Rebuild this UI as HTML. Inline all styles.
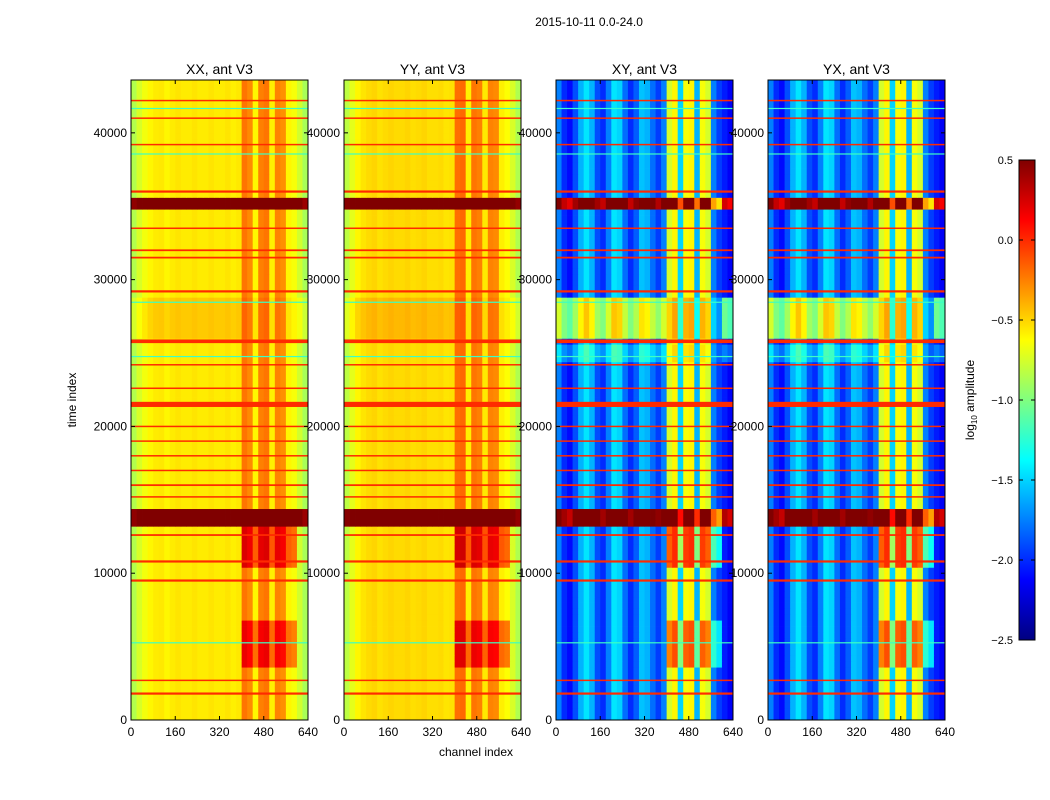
<!DOCTYPE html>
<html><head><meta charset="utf-8"><style>
html,body{margin:0;padding:0;background:#fff;}
svg{display:block;font-family:"Liberation Sans","DejaVu Sans",sans-serif;}
</style></head><body>
<svg id="fig" width="1050" height="800" viewBox="0 0 1050 800" xmlns="http://www.w3.org/2000/svg">
<text x="589" y="26" font-size="12" text-anchor="middle">2015-10-11 0.0-24.0</text>
<g id="panels"></g>
<text x="476" y="756" font-size="12" text-anchor="middle">channel index</text>
<text transform="translate(76,400) rotate(-90)" font-size="12" text-anchor="middle">time index</text>
<defs><linearGradient id="jet" x1="0" y1="1" x2="0" y2="0"></linearGradient></defs>
<g id="colorbar"></g>
<text transform="translate(974,400) rotate(-90)" font-size="12" text-anchor="middle">log<tspan font-size="8" dy="3">10</tspan><tspan dy="-3"> amplitude</tspan></text>
</svg>
<script>
// ---- data ----
const panelTitles = ["XX, ant V3","YY, ant V3","XY, ant V3","YX, ant V3"];
const xTicks = [0,160,320,480,640];
const yTicks = [0,10000,20000,30000,40000];
const cbTicks = [0.5,0.0,-0.5,-1.0,-1.5,-2.0,-2.5];
const cbTickLabels = ["0.5","0.0","\u22120.5","\u22121.0","\u22121.5","\u22122.0","\u22122.5"];
const profXX = [-0.85,-0.74,-0.66,-0.6,-0.57,-0.56,-0.6,-0.57,-0.55,-0.57,-0.57,-0.55,-0.57,-0.57,-0.55,-0.57,-0.57,-0.55,-0.58,-0.56,-0.22,-0.28,-0.6,-0.25,-0.22,-0.58,-0.26,-0.3,-0.6,-0.65,-0.76,-0.88];
const profYY = [-0.82,-0.7,-0.6,-0.55,-0.52,-0.5,-0.54,-0.52,-0.5,-0.52,-0.52,-0.5,-0.53,-0.52,-0.5,-0.53,-0.53,-0.52,-0.55,-0.54,-0.2,-0.18,-0.58,-0.22,-0.25,-0.56,-0.26,-0.28,-0.58,-0.63,-0.74,-0.86];
const profXY = [-1.75,-2.0,-2.1,-1.9,-1.6,-1.45,-1.6,-1.9,-2.0,-1.75,-1.45,-1.5,-1.8,-2.0,-1.85,-1.55,-1.6,-1.8,-1.95,-1.75,-0.75,-0.6,-1.5,-0.65,-0.6,-1.6,-0.65,-0.75,-1.75,-1.95,-2.05,-2.15];
const profYX = [-1.75,-2.0,-2.1,-1.9,-1.6,-1.45,-1.6,-1.9,-2.0,-1.75,-1.45,-1.5,-1.8,-2.0,-1.85,-1.55,-1.6,-1.8,-1.95,-1.75,-0.75,-0.6,-1.5,-0.65,-0.6,-1.6,-0.65,-0.75,-1.75,-1.95,-2.05,-2.15];
// time blocks: start, end, base offset, rfi offset
const blockStart = [3500,10500,13200,24500,26000,35000];
const blockEnd   = [7000,13200,14500,25500,29000,35700];
const blockBaseXX = [0,0,1.3,0,0.1,1.3];
const blockRfiXX  = [0.4,0.45,1.3,0,0.05,1.3];
const blockBaseXY = [0,0,2.4,0.3,1.0,2.3];
const blockRfiXY  = [0.5,0.6,1.6,0.1,0.25,1.4];
// flagged lines: time index, width (time units), value
const flagTimes = [1800,2700,9500,10800,12600,15200,16000,17000,18000,19000,20000,21500,22600,24200,25800,29200,31500,32000,33500,36000,39200,41000,42200];
const flagWidths = [150,100,150,150,120,100,120,100,100,100,100,350,100,100,250,150,120,120,100,150,100,100,100];
const flagValues = [0.0,0.0,0.0,0.0,0.0,0.0,0.0,0.0,0.0,0.0,0.0,0.0,0.0,0.0,0.0,0.0,0.0,0.0,0.0,0.0,0.0,0.0,0.0];
const cyanTimes = [5300,24800,28500,38600,41700];
const cyanValues = [-1.2,-1.2,-1.2,-1.2,-1.2];

// ---- geometry ----
const NS="http://www.w3.org/2000/svg";
const panelX=[131,344,556,768], PW=177, PT=80, PB=720, TMAX=43600, CMAX=640;
const profiles=[profXX,profYY,profXY,profYX];
function jet(v){
  let t=(v+2.5)/3; t=Math.max(0,Math.min(1,t));
  const f=(x)=>Math.max(0,Math.min(1,x));
  const r=f(Math.min(4*t-1.5,-4*t+4.5)), g=f(Math.min(4*t-0.5,-4*t+3.5)), b=f(Math.min(4*t+0.5,-4*t+2.5));
  return `rgb(${Math.round(r*255)},${Math.round(g*255)},${Math.round(b*255)})`;
}
function mk(tag,attrs,parent){const e=document.createElementNS(NS,tag);for(const k in attrs)e.setAttribute(k,attrs[k]);parent.appendChild(e);return e;}
const grad=document.getElementById('jet');
for(let i=0;i<=24;i++){mk('stop',{offset:i/24,'stop-color':jet(-2.5+3*i/24)},grad);}
const panels=document.getElementById('panels');
const ROW=400;
profiles.forEach((prof,p)=>{
  const x0=panelX[p];
  const xs=c=>x0+c/CMAX*PW, ys=t=>PB-t/TMAX*(PB-PT);
  const g=mk('g',{},panels);
  
  
  const cross=p>=2;
  const bb=cross?blockBaseXY:blockBaseXX, br=cross?blockRfiXY:blockRfiXX;
  const nb=prof.length, cw=CMAX/nb;
  for(let t=0;t<TMAX;t+=ROW){
    const tm=t+ROW/2;
    let ob=0,orf=0;
    for(let k=0;k<blockStart.length;k++){ if(tm>=blockStart[k]&&tm<blockEnd[k]){ob=bb[k];orf=br[k];} }
    for(let c=0;c<nb;c++){
      const rfi=c>=20&&c<=29;
      const v=prof[c]+(rfi?orf:ob);
      const y1=ys(Math.min(t+ROW,TMAX)), y0=ys(t);
      const r=mk('rect',{x:xs(c*cw).toFixed(2),y:y1.toFixed(2),width:(PW/nb+0.4).toFixed(2),height:(y0-y1+0.4).toFixed(2),fill:jet(v)},g);
      
      
    }
  }
  flagTimes.forEach((ft,i)=>{
    const y=ys(ft+flagWidths[i]/2), h=Math.max(1.5,flagWidths[i]/TMAX*(PB-PT));
    const r=mk('rect',{x:x0,y:y.toFixed(2),width:PW,height:h.toFixed(2),fill:jet(flagValues[i])},g);
    
    
  });
  cyanTimes.forEach((ct,i)=>{
    const r=mk('rect',{x:x0,y:ys(ct).toFixed(2),width:PW,height:1.2,fill:jet(cyanValues[i])},g);
    
    
  });
  const fr=mk('rect',{x:x0,y:PT,width:PW,height:PB-PT,fill:'none',stroke:'#000','stroke-width':1},g);
  
  
  const tt=mk('text',{x:x0+PW/2,y:PT-6,'font-size':14,'text-anchor':'middle'},g);
  tt.textContent=panelTitles[p];
  
  
  xTicks.forEach(v=>{
    const x=xs(v);
    mk('line',{x1:x,x2:x,y1:PB,y2:PB-4,stroke:'#000'},g);
    mk('line',{x1:x,x2:x,y1:PT,y2:PT+4,stroke:'#000'},g);
    const l=mk('text',{x:x,y:PB+16,'font-size':12,'text-anchor':'middle'},g);
    l.textContent=v;
    
    
  });
  yTicks.forEach(v=>{
    const y=ys(v);
    mk('line',{x1:x0,x2:x0+4,y1:y,y2:y,stroke:'#000'},g);
    mk('line',{x1:x0+PW,x2:x0+PW-4,y1:y,y2:y,stroke:'#000'},g);
    const l=mk('text',{x:x0-4,y:y+4,'font-size':12,'text-anchor':'end'},g);
    l.textContent=v;
    
    
  });
});
// colorbar
const cb=document.getElementById('colorbar');
const cbX=1019,cbW=16,cbT=160,cbB=640;
mk('rect',{x:cbX,y:cbT,width:cbW,height:cbB-cbT,fill:'url(#jet)',stroke:'#000','stroke-width':1},cb);
cbTicks.forEach((v,i)=>{
  const y=cbB-(v+2.5)/3*(cbB-cbT);
  mk('line',{x1:cbX,x2:cbX+4,y1:y,y2:y,stroke:'#000'},cb);
  mk('line',{x1:cbX+cbW,x2:cbX+cbW-4,y1:y,y2:y,stroke:'#000'},cb);
  const l=mk('text',{x:1013,y:y+4,'font-size':11,'text-anchor':'end'},cb);
  l.textContent=cbTickLabels[i];
  
  
});
</script>
</body></html>
